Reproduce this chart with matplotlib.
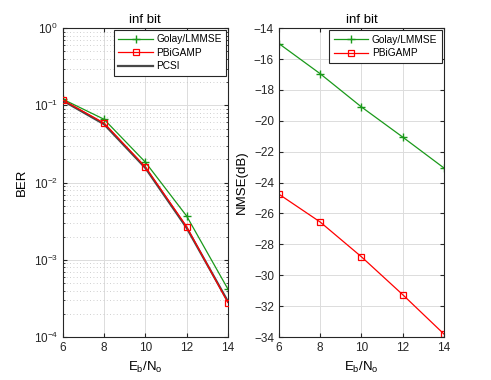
import matplotlib
matplotlib.use('Agg')
import matplotlib.pyplot as plt
from matplotlib.ticker import LogLocator, NullFormatter

plt.rcParams['font.family'] = ['Liberation Sans', 'DejaVu Sans']
plt.rcParams['mathtext.default'] = 'regular'

ebno = [6, 8, 10, 12, 14]

ber_golay = [0.120, 0.066, 0.0184, 0.0037, 0.00042]
ber_pbigamp = [0.117, 0.059, 0.0160, 0.0027, 0.00028]
ber_pcsi = [0.115, 0.057, 0.0155, 0.0026, 0.00029]

nmse_golay = [-15.0, -16.95, -19.1, -21.05, -23.05]
nmse_pbigamp = [-24.75, -26.55, -28.8, -31.25, -33.8]

green = '#1a991a'
axcol = '#262626'
fs_tick = 8.5
fs_lab = 9.5
fs_leg = 7.3

fig = plt.figure(figsize=(4.91, 3.80), dpi=100)
ax1 = fig.add_axes([0.128, 0.113, 0.336, 0.813])
ax2 = fig.add_axes([0.568, 0.113, 0.336, 0.813])

# left: BER
ax1.semilogy(ebno, ber_golay, color=green, marker='+', ms=6, mew=1.0, lw=0.9, label='Golay/LMMSE')
ax1.semilogy(ebno, ber_pcsi, color='#484848', lw=1.6, label='PCSI', zorder=2)
ax1.semilogy(ebno, ber_pbigamp, color='red', marker='s', ms=5, mfc='none', mew=0.9, lw=0.9, label='PBiGAMP', zorder=3)
ax1.set_xlim(6, 14)
ax1.set_ylim(1e-4, 1)
ax1.set_xticks(ebno)
ax1.yaxis.set_major_locator(LogLocator(base=10, numticks=10))
ax1.yaxis.set_minor_locator(LogLocator(base=10, subs=range(2, 10), numticks=20))
ax1.yaxis.set_minor_formatter(NullFormatter())
ax1.grid(True, which='major', color='#dcdcdc', lw=0.7)
ax1.grid(True, which='minor', axis='y', color='#c0c0c0', lw=0.6, ls=(0, (1, 3)))
ax1.set_xlabel(r'E$_{b}$/N$_{o}$', fontsize=fs_lab)
ax1.set_ylabel('BER', fontsize=fs_lab)
ax1.set_title('inf bit', fontsize=fs_lab, pad=4)
h, l = ax1.get_legend_handles_labels()
order = [0, 2, 1]
leg1 = ax1.legend([h[i] for i in order], [l[i] for i in order], loc='upper right',
                  fontsize=fs_leg, fancybox=False, edgecolor=axcol, framealpha=1,
                  handlelength=3.4, handletextpad=0.35, borderpad=0.45,
                  labelspacing=0.35, borderaxespad=0.15)
leg1.get_frame().set_linewidth(0.8)

# right: NMSE
ax2.plot(ebno, nmse_golay, color=green, marker='+', ms=6, mew=1.0, lw=0.9, label='Golay/LMMSE')
ax2.plot(ebno, nmse_pbigamp, color='red', marker='s', ms=5, mfc='none', mew=0.9, lw=0.9, label='PBiGAMP')
ax2.set_xlim(6, 14)
ax2.set_ylim(-34, -14)
ax2.set_xticks(ebno)
ax2.set_yticks(range(-34, -13, 2))
ax2.grid(True, color='#dcdcdc', lw=0.7)
ax2.set_xlabel(r'E$_{b}$/N$_{o}$', fontsize=fs_lab)
ax2.set_ylabel('NMSE(dB)', fontsize=fs_lab)
ax2.set_title('inf bit', fontsize=fs_lab, pad=4)
leg2 = ax2.legend(loc='upper right', fontsize=fs_leg, fancybox=False, edgecolor=axcol,
                  framealpha=1, handlelength=3.4, handletextpad=0.35, borderpad=0.45,
                  labelspacing=0.35, borderaxespad=0.2)
leg2.get_frame().set_linewidth(0.8)

for ax in (ax1, ax2):
    ax.set_axisbelow(True)
    for s in ax.spines.values():
        s.set_color(axcol)
        s.set_linewidth(0.8)
    ax.tick_params(which='both', direction='in', top=True, right=True,
                   labelsize=fs_tick, colors=axcol, labelcolor=axcol, length=3)
    ax.tick_params(which='minor', length=1.5)

fig.savefig('out.png', dpi=100)
